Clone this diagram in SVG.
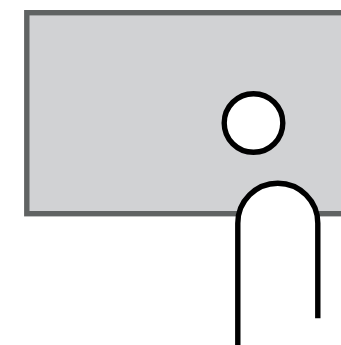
<svg xmlns="http://www.w3.org/2000/svg" width="341" height="345" viewBox="0 0 341 345">
<style>.line{fill:#fff;stroke:#000;stroke-width:5.4}</style>
<rect width="341" height="345" fill="#fff"/>
<g id="panel"><rect x="26.8" y="12.7" width="340" height="201" fill="#d1d2d4" stroke="#606363" stroke-width="5.4"/></g>
<g id="hole"><circle class="line" cx="253.5" cy="123" r="29.3"/></g>
<g id="finger"><path class="line" d="M237.800 346V223.200A40 40 0 0 1 317.800 223.200V318.300"/></g>
</svg>
